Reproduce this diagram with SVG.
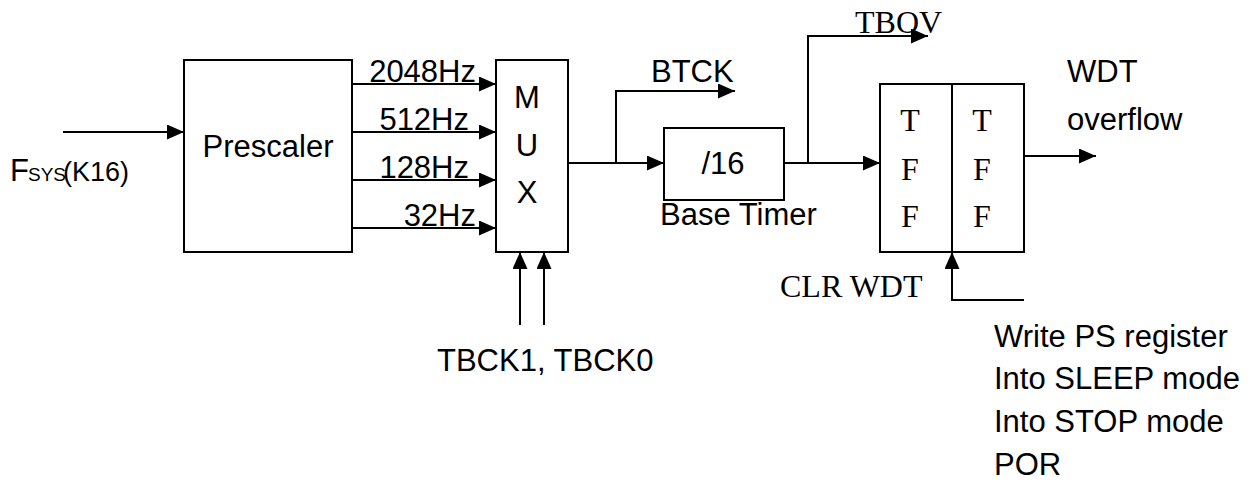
<svg xmlns="http://www.w3.org/2000/svg" width="1255" height="495" viewBox="0 0 1255 495">
<style>
.box{fill:#fff;stroke:#000;stroke-width:2}
.ln{fill:none;stroke:#000;stroke-width:2;marker-end:url(#ah)}
.pl{fill:none;stroke:#000;stroke-width:2}
.s{font-family:"Liberation Sans",Arial,sans-serif;font-size:31px;fill:#000}
.r{font-family:"Liberation Serif","Times New Roman",serif;font-size:32px;fill:#000}
.m{text-anchor:middle}
.e{text-anchor:end}
</style>
<defs>
<marker id="ah" markerUnits="userSpaceOnUse" markerWidth="17" markerHeight="15" refX="17" refY="7.5" orient="auto">
<path d="M0,0 L17,7.5 L0,15 Z" fill="#000"/>
</marker>
</defs>
<rect width="1255" height="495" fill="#fff"/>
<g id="connectors">
<path class="ln" d="M63,132 H184"/>
<path class="ln" d="M352,84 H496"/>
<path class="ln" d="M352,132 H496"/>
<path class="ln" d="M352,180 H496"/>
<path class="ln" d="M352,228 H496"/>
<path class="ln" d="M568,163 H664"/>
<path class="ln" d="M616,163 V91 H735"/>
<path class="ln" d="M784,163 H880"/>
<path class="ln" d="M808,163 V36 H928"/>
<path class="ln" d="M1024,156 H1096"/>
<path class="ln" d="M1024,300 H952 V252"/>
<path class="ln" d="M520,325 V252"/>
<path class="ln" d="M544,325 V252"/>
</g>
<g id="fsys">
<text class="s" x="10" y="181" font-size="31">F<tspan x="28" font-size="19">SYS</tspan><tspan x="63" font-size="27">(K16)</tspan></text>
</g>
<g id="prescaler">
<rect class="box" x="184" y="60" width="168" height="192"/>
<text class="s m" x="268" y="157">Prescaler</text>
</g>
<g id="freq-labels">
<text class="s e" x="476" y="82">2048Hz</text>
<text class="s e" x="469" y="130">512Hz</text>
<text class="s e" x="469" y="178">128Hz</text>
<text class="s e" x="476" y="226">32Hz</text>
</g>
<g id="mux">
<rect class="box" x="496" y="60" width="72" height="192"/>
<text class="s m" x="527" y="108">M</text>
<text class="s m" x="527" y="156">U</text>
<text class="s m" x="527" y="203">X</text>
</g>
<g id="tbck">
<text class="s" x="437" y="371">TBCK1, TBCK0</text>
</g>
<g id="btck">
<text class="s" x="651" y="82">BTCK</text>
</g>
<g id="base-timer">
<rect class="box" x="664" y="128" width="120" height="72"/>
<text class="s m" x="723" y="174">/16</text>
<text class="s" x="660" y="225">Base Timer</text>
</g>
<g id="tbov">
<text class="r" x="855" y="33" font-size="30">TBOV</text>
</g>
<g id="tff">
<rect class="box" x="880" y="84" width="144" height="168"/>
<line class="pl" x1="952" y1="84" x2="952" y2="252"/>
<text class="r m" x="910" y="131">T</text>
<text class="r m" x="910" y="180">F</text>
<text class="r m" x="910" y="227">F</text>
<text class="r m" x="982" y="131">T</text>
<text class="r m" x="982" y="180">F</text>
<text class="r m" x="982" y="227">F</text>
</g>
<g id="wdt-overflow">
<text class="s" x="1067" y="82">WDT</text>
<text class="s" x="1067" y="130">overflow</text>
</g>
<g id="clr-wdt">
<text class="r" x="780" y="297" font-size="31">CLR WDT</text>
</g>
<g id="clear-sources">
<text class="s" x="994" y="347">Write PS register</text>
<text class="s" x="994" y="389">Into SLEEP mode</text>
<text class="s" x="994" y="432">Into STOP mode</text>
<text class="s" x="994" y="475">POR</text>
</g>
</svg>
